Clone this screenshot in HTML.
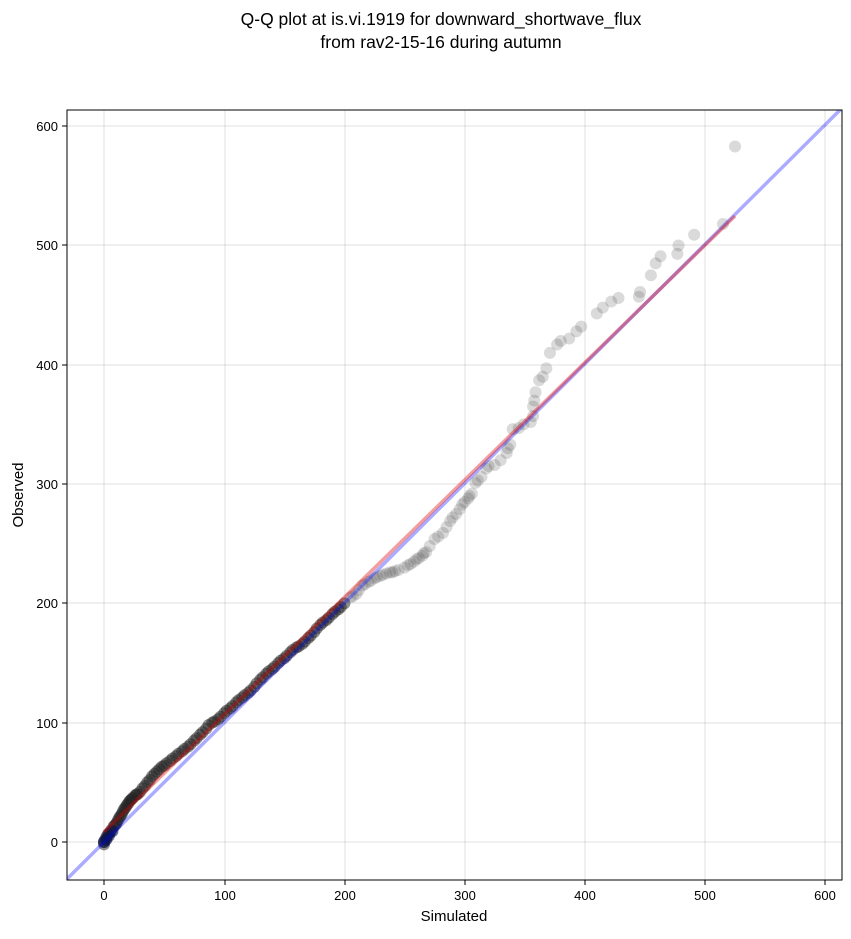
<!DOCTYPE html>
<html><head><meta charset="utf-8"><style>
body{margin:0;background:#fff;}
svg text{font-family:"Liberation Sans",sans-serif;}
</style></head><body>
<svg width="851" height="934" xmlns="http://www.w3.org/2000/svg">
<rect width="851" height="934" fill="#fff"/>
<text x="441" y="25" font-size="17.5" text-anchor="middle">Q-Q plot at is.vi.1919 for downward_shortwave_flux</text>
<text x="441" y="48" font-size="17.5" text-anchor="middle">from rav2-15-16 during autumn</text>
<defs><clipPath id="c"><rect x="67" y="110" width="775" height="770"/></clipPath></defs>
<g stroke="#000" stroke-opacity="0.08" stroke-width="1.5">
<line x1="104" y1="110" x2="104" y2="880"/><line x1="225" y1="110" x2="225" y2="880"/><line x1="345" y1="110" x2="345" y2="880"/><line x1="465" y1="110" x2="465" y2="880"/><line x1="585" y1="110" x2="585" y2="880"/><line x1="705" y1="110" x2="705" y2="880"/><line x1="825" y1="110" x2="825" y2="880"/>
<line x1="67" y1="842" x2="842" y2="842"/><line x1="67" y1="723" x2="842" y2="723"/><line x1="67" y1="603" x2="842" y2="603"/><line x1="67" y1="484" x2="842" y2="484"/><line x1="67" y1="365" x2="842" y2="365"/><line x1="67" y1="245" x2="842" y2="245"/><line x1="67" y1="126" x2="842" y2="126"/>
</g>
<g clip-path="url(#c)">
<g transform="matrix(1.202 0 0 -1.193 104 842)">
<g fill="#444" fill-opacity="0.2">
<circle cx="525" cy="583" r="5"/><circle cx="515" cy="518" r="5"/><circle cx="491" cy="509" r="5"/><circle cx="478" cy="500" r="5"/><circle cx="477" cy="493" r="5"/><circle cx="463" cy="491" r="5"/><circle cx="459" cy="485" r="5"/><circle cx="455" cy="475" r="5"/><circle cx="446" cy="461" r="5"/><circle cx="445" cy="457" r="5"/><circle cx="428" cy="456" r="5"/><circle cx="422" cy="453" r="5"/><circle cx="415" cy="448" r="5"/><circle cx="410" cy="443" r="5"/><circle cx="397" cy="432" r="5"/><circle cx="393" cy="428" r="5"/><circle cx="387" cy="422" r="5"/><circle cx="380" cy="420" r="5"/><circle cx="377" cy="417" r="5"/><circle cx="371" cy="410" r="5"/><circle cx="368" cy="397" r="5"/><circle cx="365" cy="390" r="5"/><circle cx="362" cy="387" r="5"/><circle cx="359" cy="377" r="5"/><circle cx="358" cy="370" r="5"/><circle cx="357" cy="365" r="5"/><circle cx="357" cy="357" r="5"/><circle cx="355" cy="352" r="5"/><circle cx="349" cy="350" r="5"/><circle cx="345" cy="347" r="5"/><circle cx="340" cy="346" r="5"/><circle cx="338" cy="333" r="5"/><circle cx="335" cy="326" r="5"/><circle cx="325" cy="316" r="5"/><circle cx="318" cy="313" r="5"/><circle cx="314" cy="306" r="5"/><circle cx="309" cy="301" r="5"/><circle cx="306" cy="292" r="5"/><circle cx="303" cy="288" r="5"/><circle cx="298" cy="283" r="5"/><circle cx="293" cy="275" r="5"/><circle cx="288" cy="269" r="5"/><circle cx="282" cy="259" r="5"/><circle cx="275" cy="254" r="5"/><circle cx="268" cy="243" r="5"/><circle cx="262" cy="238" r="5"/><circle cx="255" cy="233" r="5"/><circle cx="245" cy="228" r="5"/><circle cx="240" cy="226" r="5"/><circle cx="235" cy="225" r="5"/><circle cx="230" cy="223" r="5"/><circle cx="225" cy="221" r="5"/><circle cx="220" cy="218" r="5"/><circle cx="215" cy="215" r="5"/><circle cx="210" cy="208" r="5"/><circle cx="205" cy="205" r="5"/>
<circle cx="207" cy="206" r="5"/><circle cx="212" cy="211" r="5"/><circle cx="217" cy="216" r="5"/><circle cx="222" cy="219" r="5"/><circle cx="227" cy="222" r="5"/><circle cx="232" cy="224" r="5"/><circle cx="238" cy="226" r="5"/><circle cx="242" cy="227" r="5"/><circle cx="250" cy="230" r="5"/><circle cx="258" cy="235" r="5"/><circle cx="265" cy="240" r="5"/><circle cx="271" cy="248" r="5"/><circle cx="278" cy="256" r="5"/><circle cx="285" cy="264" r="5"/><circle cx="290" cy="272" r="5"/><circle cx="296" cy="279" r="5"/><circle cx="300" cy="285" r="5"/><circle cx="304" cy="290" r="5"/><circle cx="311" cy="303" r="5"/><circle cx="320" cy="315" r="5"/><circle cx="330" cy="320" r="5"/><circle cx="336" cy="330" r="5"/><circle cx="253" cy="232" r="5"/><circle cx="260" cy="237" r="5"/><circle cx="266" cy="242" r="5"/>
</g>
<g fill="#222" fill-opacity="0.5">
<circle cx="0" cy="0" r="5"/><circle cx="0" cy="-2" r="5"/><circle cx="1" cy="2" r="5"/><circle cx="2" cy="4" r="5"/><circle cx="3" cy="6" r="5"/><circle cx="4" cy="7" r="5"/><circle cx="6" cy="10" r="5"/><circle cx="8" cy="13" r="5"/><circle cx="10" cy="15" r="5"/><circle cx="12" cy="19" r="5"/><circle cx="14" cy="22" r="5"/><circle cx="16" cy="26" r="5"/><circle cx="18" cy="29" r="5"/><circle cx="20" cy="32" r="5"/><circle cx="23" cy="36" r="5"/><circle cx="26" cy="39" r="5"/><circle cx="30" cy="42" r="5"/><circle cx="34" cy="47" r="5"/><circle cx="38" cy="52" r="5"/><circle cx="42" cy="57" r="5"/><circle cx="46" cy="61" r="5"/><circle cx="50" cy="64" r="5"/><circle cx="55" cy="68" r="5"/><circle cx="60" cy="72" r="5"/><circle cx="65" cy="76" r="5"/><circle cx="70" cy="80" r="5"/><circle cx="75" cy="85" r="5"/><circle cx="80" cy="90" r="5"/><circle cx="85" cy="95" r="5"/><circle cx="90" cy="100" r="5"/><circle cx="95" cy="103" r="5"/><circle cx="100" cy="108" r="5"/><circle cx="105" cy="112" r="5"/><circle cx="110" cy="117" r="5"/><circle cx="115" cy="121" r="5"/><circle cx="120" cy="125" r="5"/><circle cx="125" cy="130" r="5"/><circle cx="130" cy="136" r="5"/><circle cx="135" cy="141" r="5"/><circle cx="140" cy="145" r="5"/><circle cx="145" cy="150" r="5"/><circle cx="150" cy="154" r="5"/><circle cx="155" cy="159" r="5"/><circle cx="160" cy="163" r="5"/><circle cx="165" cy="166" r="5"/><circle cx="170" cy="171" r="5"/><circle cx="175" cy="176" r="5"/><circle cx="180" cy="182" r="5"/><circle cx="185" cy="186" r="5"/><circle cx="190" cy="191" r="5"/><circle cx="195" cy="195" r="5"/><circle cx="200" cy="200" r="5"/>
<circle cx="5" cy="8" r="5"/><circle cx="9" cy="14" r="5"/><circle cx="15" cy="24" r="5"/><circle cx="22" cy="35" r="5"/><circle cx="28" cy="40" r="5"/><circle cx="36" cy="50" r="5"/><circle cx="44" cy="59" r="5"/><circle cx="52" cy="66" r="5"/>
<circle cx="32" cy="45" r="5"/><circle cx="40" cy="55" r="5"/><circle cx="48" cy="63" r="5"/><circle cx="57" cy="70" r="5"/><circle cx="62" cy="74" r="5"/><circle cx="67" cy="78" r="5"/><circle cx="72" cy="82" r="5"/><circle cx="77" cy="87" r="5"/><circle cx="82" cy="92" r="5"/><circle cx="87" cy="98" r="5"/><circle cx="92" cy="101" r="5"/><circle cx="97" cy="105" r="5"/><circle cx="102" cy="110" r="5"/><circle cx="107" cy="114" r="5"/><circle cx="112" cy="119" r="5"/><circle cx="117" cy="123" r="5"/><circle cx="122" cy="127" r="5"/><circle cx="127" cy="133" r="5"/><circle cx="132" cy="138" r="5"/><circle cx="137" cy="143" r="5"/><circle cx="142" cy="147" r="5"/><circle cx="147" cy="152" r="5"/><circle cx="152" cy="156" r="5"/><circle cx="157" cy="161" r="5"/><circle cx="162" cy="164" r="5"/><circle cx="167" cy="168" r="5"/><circle cx="172" cy="173" r="5"/><circle cx="177" cy="179" r="5"/><circle cx="182" cy="184" r="5"/><circle cx="187" cy="188" r="5"/><circle cx="192" cy="193" r="5"/><circle cx="197" cy="197" r="5"/>
<circle cx="11" cy="17" r="5"/><circle cx="13" cy="21" r="5"/><circle cx="17" cy="28" r="5"/><circle cx="19" cy="31" r="5"/><circle cx="21" cy="34" r="5"/><circle cx="24" cy="37" r="5"/><circle cx="27" cy="40" r="5"/>
</g>
<g fill="#0a1450" fill-opacity="0.6"><circle cx="0" cy="0" r="5"/><circle cx="2" cy="2" r="5"/><circle cx="4" cy="5" r="5"/><circle cx="7" cy="9" r="5"/></g>
</g>
<line x1="67" y1="879" x2="842" y2="108" stroke="#0000ff" stroke-opacity="0.33" stroke-width="3.5"/>
<line x1="104" y1="832" x2="735" y2="216" stroke="#e00000" stroke-opacity="0.38" stroke-width="3.5"/>
</g>
<rect x="67" y="110" width="775" height="770" fill="none" stroke="#000" stroke-width="1"/>
<g stroke="#000" stroke-width="1">
<line x1="104" y1="880" x2="104" y2="885"/><line x1="225" y1="880" x2="225" y2="885"/><line x1="345" y1="880" x2="345" y2="885"/><line x1="465" y1="880" x2="465" y2="885"/><line x1="585" y1="880" x2="585" y2="885"/><line x1="705" y1="880" x2="705" y2="885"/><line x1="825" y1="880" x2="825" y2="885"/>
<line x1="62" y1="842" x2="67" y2="842"/><line x1="62" y1="723" x2="67" y2="723"/><line x1="62" y1="603" x2="67" y2="603"/><line x1="62" y1="484" x2="67" y2="484"/><line x1="62" y1="365" x2="67" y2="365"/><line x1="62" y1="245" x2="67" y2="245"/><line x1="62" y1="126" x2="67" y2="126"/>
</g>
<g font-size="13" text-anchor="middle">
<text x="104" y="900">0</text><text x="225" y="900">100</text><text x="345" y="900">200</text><text x="465" y="900">300</text><text x="585" y="900">400</text><text x="705" y="900">500</text><text x="825" y="900">600</text>
</g>
<g font-size="13" text-anchor="end">
<text x="58" y="847">0</text><text x="58" y="728">100</text><text x="58" y="608">200</text><text x="58" y="489">300</text><text x="58" y="370">400</text><text x="58" y="250">500</text><text x="58" y="131">600</text>
</g>
<text x="454" y="921" font-size="15" text-anchor="middle">Simulated</text>
<text transform="translate(23 495) rotate(-90)" font-size="15" text-anchor="middle">Observed</text>
</svg>
</body></html>
